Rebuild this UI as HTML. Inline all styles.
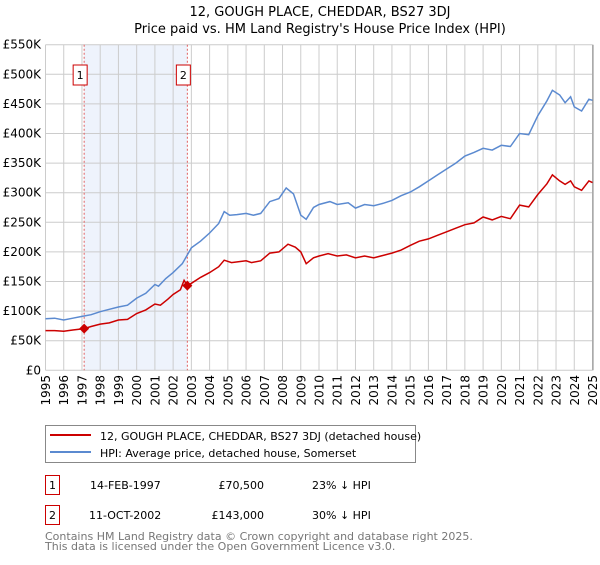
<!DOCTYPE html>
<html><head><meta charset="utf-8"><style>
body{margin:0;background:#fff;font-family:"Liberation Sans","DejaVu Sans",sans-serif;}
svg text{font-family:"DejaVu Sans","Liberation Sans",sans-serif;}
</style></head><body>
<svg id="c" width="600" height="560">
<text x="320" y="16" text-anchor="middle" font-size="13" fill="#000">12, GOUGH PLACE, CHEDDAR, BS27 3DJ</text>
<text x="320" y="33" text-anchor="middle" font-size="13" fill="#000">Price paid vs. HM Land Registry's House Price Index (HPI)</text>
<g id="plot"></g>
<g>
<rect x="45.5" y="425.5" width="370" height="37" fill="#fff" stroke="#888"/>
<line x1="50" y1="435" x2="91" y2="435" stroke="#cc0000" stroke-width="2"/>
<text x="100" y="440" font-size="11">12, GOUGH PLACE, CHEDDAR, BS27 3DJ (detached house)</text>
<line x1="50" y1="452" x2="91" y2="452" stroke="#5b8ad0" stroke-width="2"/>
<text x="100" y="457" font-size="11">HPI: Average price, detached house, Somerset</text>
</g>
<g font-size="11">
<rect x="45.5" y="475.5" width="14" height="19" fill="#fff" stroke="#cc0000"/>
<text x="52.5" y="489" text-anchor="middle">1</text>
<text x="90" y="489">14-FEB-1997</text>
<text x="264" y="489" text-anchor="end">£70,500</text>
<text x="312" y="489">23% ↓ HPI</text>
<rect x="45.5" y="505.5" width="14" height="19" fill="#fff" stroke="#cc0000"/>
<text x="52.5" y="519" text-anchor="middle">2</text>
<text x="89" y="519">11-OCT-2002</text>
<text x="264" y="519" text-anchor="end">£143,000</text>
<text x="312" y="519">30% ↓ HPI</text>
</g>
<text x="45" y="540" font-size="11" fill="#777">Contains HM Land Registry data © Crown copyright and database right 2025.</text>
<text x="45" y="550" font-size="11" fill="#777">This data is licensed under the Open Government Licence v3.0.</text>
</svg>
<script>
const hpiYears=[1995,1995.5,1996,1996.5,1997,1997.5,1998,1998.5,1999,1999.5,2000,2000.5,2001,2001.2,2001.6,2002,2002.5,2003,2003.5,2004,2004.5,2004.8,2005.1,2005.5,2006,2006.4,2006.8,2007.3,2007.8,2008.2,2008.6,2009,2009.3,2009.7,2010,2010.6,2011,2011.6,2012,2012.5,2013,2013.5,2014,2014.5,2015,2015.5,2016,2016.5,2017,2017.5,2018,2018.5,2019,2019.5,2020,2020.5,2021,2021.5,2022,2022.5,2022.8,2023.2,2023.5,2023.8,2024,2024.4,2024.8,2025];
const hpiValues=[87,88,85,88,91,94,99,103,107,110,122,130,145,142,155,165,180,207,218,232,248,268,262,263,265,262,265,285,290,308,298,262,255,275,280,285,280,283,274,280,278,282,287,295,301,310,320,330,340,350,362,368,375,372,380,378,400,398,430,455,473,465,452,462,445,438,458,456];
const priceYears=[1995,1995.5,1996,1996.5,1997.12,1997.5,1998,1998.5,1999,1999.5,2000,2000.5,2001,2001.3,2001.7,2002,2002.4,2002.6,2002.78,2003,2003.5,2004,2004.5,2004.8,2005.2,2006,2006.3,2006.8,2007.3,2007.8,2008.3,2008.7,2009,2009.3,2009.7,2010,2010.5,2011,2011.5,2012,2012.5,2013,2013.5,2014,2014.5,2015,2015.5,2016,2016.5,2017,2017.5,2018,2018.5,2019,2019.5,2020,2020.5,2021,2021.5,2022,2022.5,2022.8,2023.2,2023.5,2023.8,2024,2024.4,2024.8,2025];
const priceValues=[67,67,66,68,70.5,74,78,80,85,86,96,102,112,110,120,128,136,152,143,147,157,165,175,186,182,185,182,185,198,200,213,208,200,180,190,193,197,193,195,190,193,190,194,198,203,211,218,222,228,234,240,246,249,259,254,260,256,279,276,297,315,330,320,314,320,310,304,320,317];
const saleYears=[1997.12,2002.78];
const saleValues=[70.5,143];
const yTicks=[0,50,100,150,200,250,300,350,400,450,500,550];
const yTickLabels=["£0","£50K","£100K","£150K","£200K","£250K","£300K","£350K","£400K","£450K","£500K","£550K"];
const xTicks=[1995,1996,1997,1998,1999,2000,2001,2002,2003,2004,2005,2006,2007,2008,2009,2010,2011,2012,2013,2014,2015,2016,2017,2018,2019,2020,2021,2022,2023,2024,2025];

const NS="http://www.w3.org/2000/svg";
const X0=45.5,X1=592.5,Y0=370.3,Y1=44.7;
const xs=t=>X0+(t-1995)/30*(X1-X0);
const ys=v=>Y0-v/550*(Y0-Y1);
const g=document.getElementById('plot');
function mk(tag,attrs){const e=document.createElementNS(NS,tag);for(const k in attrs)e.setAttribute(k,attrs[k]);g.appendChild(e);return e;}
const shade=mk('rect',{x:xs(saleYears[0]),y:Y1,width:xs(saleYears[1])-xs(saleYears[0]),height:Y0-Y1,fill:'#eef3fc'});


yTicks.forEach((v,i)=>{
  const l=mk('line',{x1:X0,x2:X1,y1:ys(v),y2:ys(v),stroke:'#cccccc','stroke-width':1});
  
  
  const t=mk('text',{x:41,y:ys(v)+4,'text-anchor':'end','font-size':12,fill:'#000'});
  t.textContent=yTickLabels[i];
  
  
});
xTicks.forEach(yr=>{
  const l=mk('line',{x1:xs(yr),x2:xs(yr),y1:Y1,y2:Y0,stroke:'#cccccc','stroke-width':1});
  
  
  const t=mk('text',{x:0,y:0,'text-anchor':'end','font-size':12,fill:'#000',transform:`translate(${xs(yr)+4.5},375) rotate(-90)`});
  t.textContent=yr;
  
  
});
const rb=mk('line',{x1:X1+0.5,x2:X1+0.5,y1:Y1,y2:Y0,stroke:'#888','stroke-width':1});


saleYears.forEach((yr,i)=>{
  const l=mk('line',{x1:xs(yr),x2:xs(yr),y1:Y1,y2:Y0,stroke:'#e06060','stroke-width':1,'stroke-dasharray':'2,2'});
  
  
  const r=mk('rect',{x:xs(yr)-11,y:65,width:14,height:20,fill:'#fff',stroke:'#cc0000'});
  
  
  const t=mk('text',{x:xs(yr)-4,y:79,'text-anchor':'middle','font-size':11});
  t.textContent=String(i+1);
  
  
});
const pts=(a,b)=>a.map((t,i)=>xs(t).toFixed(1)+','+ys(b[i]).toFixed(1)).join(' ');
const hp=mk('polyline',{points:pts(hpiYears,hpiValues),fill:'none',stroke:'#5b8ad0','stroke-width':1.5});


const pp=mk('polyline',{points:pts(priceYears,priceValues),fill:'none',stroke:'#cc0000','stroke-width':1.5});


saleYears.forEach((yr,i)=>{
  const cx=xs(yr),cy=ys(saleValues[i]);
  const d=mk('polygon',{points:`${cx},${cy-5} ${cx+5},${cy} ${cx},${cy+5} ${cx-5},${cy}`,fill:'#cc0000'});
  
  
});
</script>
</body></html>
